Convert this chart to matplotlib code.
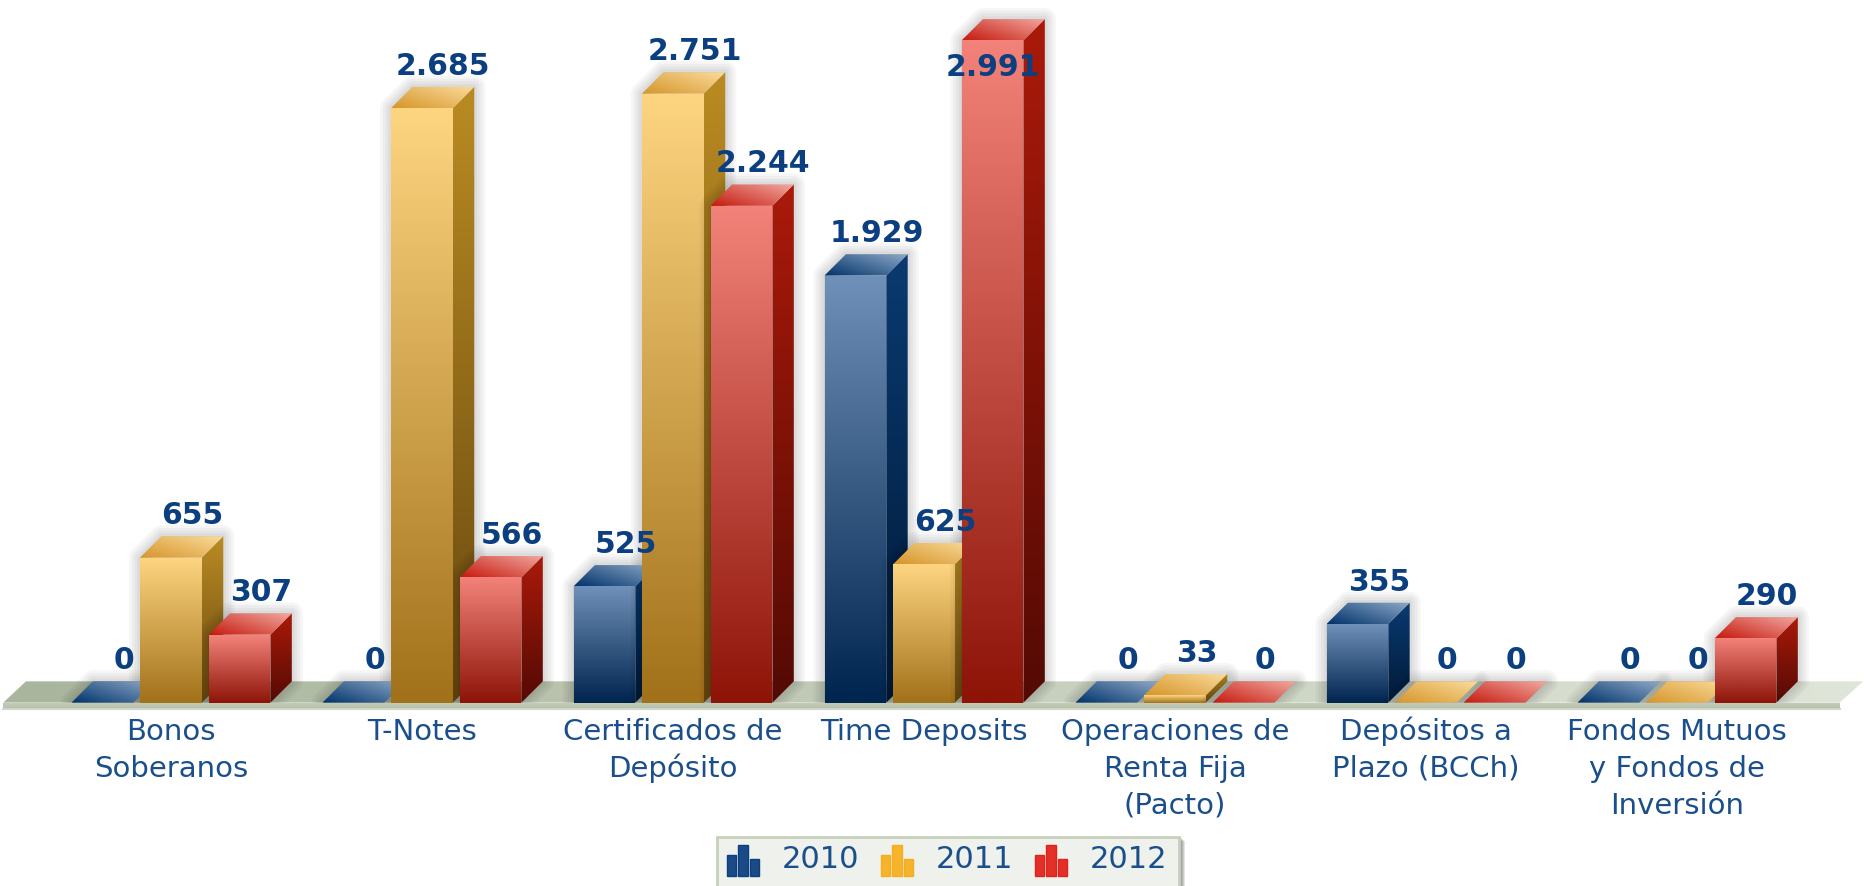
import numpy as np
import matplotlib
matplotlib.use('Agg')
import matplotlib.pyplot as plt
from matplotlib.patches import Polygon, Rectangle
from matplotlib.colors import to_rgb

categories = ['Bonos\nSoberanos', 'T-Notes', 'Certificados de\nDepósito', 'Time Deposits',
              'Operaciones de\nRenta Fija\n(Pacto)', 'Depósitos a\nPlazo (BCCh)',
              'Fondos Mutuos\ny Fondos de\nInversión']
years = ['2010', '2011', '2012']
v2010 = [0, 0, 525, 1929, 0, 355, 0]
v2011 = [655, 2685, 2751, 625, 33, 0, 0]
v2012 = [307, 566, 2244, 2991, 0, 0, 290]
labels2010 = ['0', '0', '525', '1.929', '0', '355', '0']
labels2011 = ['655', '2.685', '2.751', '625', '33', '0', '0']
labels2012 = ['307', '566', '2.244', '2.991', '0', '0', '290']

# front, side, top colours (top = dark left, light right)
c2010 = dict(front=('#6f90b8', '#00254f'), side=('#0a3a70', '#001a38'), top=('#00336b', '#8fa9c8'))
c2011 = dict(front=('#fdd480', '#a2721a'), side=('#b98b22', '#684810'), top=('#d6952a', '#fbdc9c'))
c2012 = dict(front=('#f28279', '#8e1408'), side=('#aa1a0a', '#540a04'), top=('#c61a0e', '#f2aaa2'))
icon_colors = ['#0b3f7f', '#f5ae1e', '#e0231a']
text_col = '#1b4f8c'
value_col = '#0b3f80'

W, H = 1864, 886
step = 251.0            # px between groups
ppv = 0.2214            # px per value unit
x0_px, y0_px = 171.0, 702.6
bar_w = 0.246
bar_step = 0.2732
dep_x = 0.085
dep_y = 96.0


def mix(a, b, t):
    a, b = np.array(to_rgb(a)), np.array(to_rgb(b))
    return a + (b - a) * t


def grad_poly(ax, verts, start, end, mode, z):
    # mode v: top to bottom, h: left to right, d: bottom-left to top-right
    verts = np.array(verts)
    n = 64
    xx, yy = np.meshgrid(np.linspace(0, 1, n), np.linspace(0, 1, n))
    if mode == 'v':
        t = 1 - yy
    elif mode == 'h':
        t = xx
    else:
        t = 0.55 * xx + 0.45 * yy
    t = t[..., None]
    img = np.array(to_rgb(start)) * (1 - t) + np.array(to_rgb(end)) * t
    im = ax.imshow(img, extent=(verts[:, 0].min(), verts[:, 0].max(), verts[:, 1].min(), verts[:, 1].max()),
                   origin='lower', aspect='auto', interpolation='bilinear', zorder=z)
    im.set_clip_path(Polygon(verts, closed=True, transform=ax.transData))


def bar3d(ax, x, v, cols, z):
    l, r = x - bar_w / 2, x + bar_w / 2
    outline = [(l, 0), (r, 0), (r + dep_x, dep_y), (r + dep_x, v + dep_y), (l + dep_x, v + dep_y), (l, v)]
    # soft shadow, wider strokes underneath
    for lw in [16, 12, 8, 4]:
        ax.add_patch(Polygon(outline, closed=True, fc=(0, 0, 0, 0.035), ec=(0, 0, 0, 0.035), lw=lw,
                             joinstyle='round', zorder=z))
    if v > 0:
        grad_poly(ax, [(r, 0), (r + dep_x, dep_y), (r + dep_x, v + dep_y), (r, v)],
                  cols['side'][0], cols['side'][1], 'v', z + 0.1)
        grad_poly(ax, [(l, 0), (r, 0), (r, v), (l, v)],
                  cols['front'][0], cols['front'][1], 'v', z + 0.2)
    grad_poly(ax, [(l, v), (r, v), (r + dep_x, v + dep_y), (l + dep_x, v + dep_y)],
              cols['top'][0], cols['top'][1], 'd', z + 0.3)


fig = plt.figure(figsize=(W / 100, H / 100), dpi=100)
ax = fig.add_axes([0, 0, 1, 1])
ax.axis('off')

# floor
fl, fr = -0.668, 6.648
grad_poly(ax, [(fl, 0), (fr, 0), (fr + 0.094, dep_y), (fl + 0.09, dep_y)], '#a9b59c', '#dfe5d8', 'h', 1)
# white band hides the bar shadows below the floor edge
ax.add_patch(Rectangle((-1, -900), 9, 876, fc='white', ec='none', zorder=18))
grad_poly(ax, [(fl, -24), (fr, -24), (fr, 0), (fl, 0)], '#c4cdb8', '#b8c2ac', 'v', 18.5)
ax.plot([fl, fr], [-27, -27], color='#d0d6c8', lw=1.5, zorder=18.6)

series = [(v2010, labels2010, c2010), (v2011, labels2011, c2011), (v2012, labels2012, c2012)]
x = np.arange(len(categories))
for j, (vals, labs, cols) in enumerate(series):
    offs = x + (j - 1) * bar_step
    for i, v in enumerate(vals):
        bar3d(ax, offs[i], v, cols, 2 + i + j * 0.2)

for j, (vals, labs, cols) in enumerate(series):
    offs = x + (j - 1) * bar_step
    for i, v in enumerate(vals):
        y = v + dep_y + 55
        xt = offs[i] + dep_x
        # the tallest label does not fit above the bar
        if v > 2900:
            y = v - 160
            xt = offs[i]
        ax.text(xt, y, labs[i], ha='center', va='baseline', color=value_col,
                fontsize=21.5, fontweight='bold', zorder=20)

for i, c in enumerate(categories):
    for k, line in enumerate(c.split('\n')):
        ax.annotate(line, xy=(i, 0), xytext=(0, -(37 + k * 37)), textcoords='offset pixels', ha='center',
                    va='baseline', color=text_col, fontsize=21, zorder=20, annotation_clip=False)

ax.set_xlim(-x0_px / step, (W - x0_px) / step)
ax.set_ylim(-(H - y0_px) / ppv, y0_px / ppv)

# legend box in pixel coordinates
lax = fig.add_axes([0, 0, 1, 1])
lax.axis('off')
lax.set_xlim(0, W)
lax.set_ylim(H, 0)
lax.patch.set_alpha(0)
for k in range(4):
    lax.add_patch(Rectangle((719 + k, 838 + k), 463, 50, fc=(0, 0, 0, 0.10), ec='none', zorder=1))
lax.add_patch(Rectangle((717, 837), 462, 50, fc='#eef1ec', ec='#c6d0ba', lw=2, zorder=2))
icon_x = [727, 881, 1035]
text_x = [782, 936, 1090]
for col, ix, tx, yr in zip(icon_colors, icon_x, text_x, years):
    for dx, h, w in [(0, 21, 9), (11, 31, 10), (23, 17, 9)]:
        lax.add_patch(Rectangle((ix + dx, 876 - h), w, h, fc=mix(col, '#ffffff', 0.06), ec=col, lw=1, zorder=3))
    lax.text(tx, 859, yr, ha='left', va='center', color=text_col, fontsize=22, zorder=4)

fig.savefig('out.png', dpi=100)
